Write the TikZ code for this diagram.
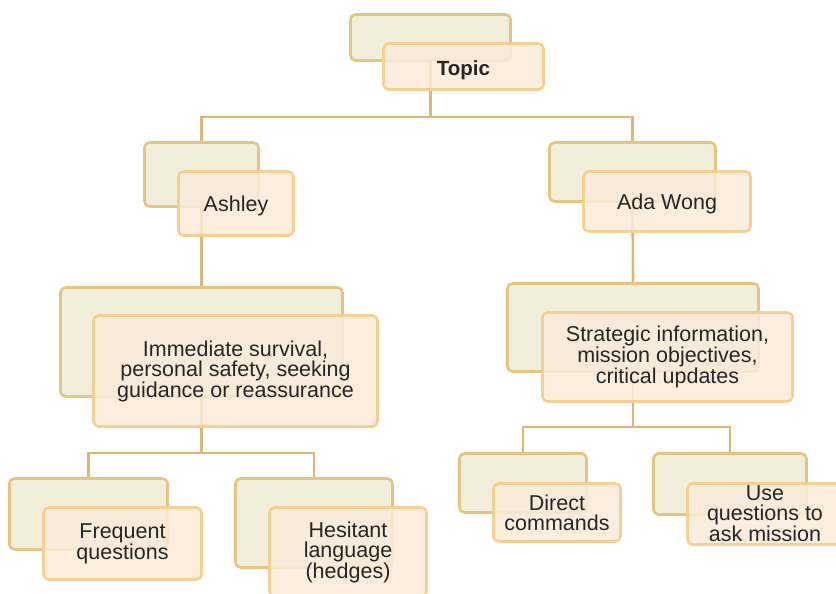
\documentclass[tikz,border=0pt]{standalone}
\usepackage{fontspec}
\setmainfont{Liberation Sans}
\usetikzlibrary{backgrounds}
\definecolor{backfill}{HTML}{F2EEDC}
\definecolor{backdraw}{HTML}{E6C482}
\definecolor{frontfill}{HTML}{FAEBD9}
\definecolor{frontdraw}{HTML}{F6CF8E}
\definecolor{linkcol}{HTML}{D9B878}
\definecolor{txtcol}{HTML}{262626}
\tikzset{
  backbox/.style={draw=backdraw, fill=backfill, line width=2.6pt, rounded corners=5pt, inner sep=0pt, outer sep=0pt},
  frontbox/.style={draw=frontdraw, fill=frontfill, fill opacity=0.85, draw opacity=0.95, text opacity=1, line width=2.6pt, rounded corners=5pt, inner sep=0pt, outer sep=0pt, text=txtcol, align=center, font=\fontsize{21.5}{20}\selectfont},
  link/.style={draw=linkcol, line width=2.6pt},
}
\begin{document}
\begin{tikzpicture}[x=1pt,y=-1pt]
\useasboundingbox (0,0) rectangle (836,594);
\clip (0,0) rectangle (836,594);
% back boxes
\node[backbox, minimum width=160pt, minimum height=46pt] (tB) at (430.5,37.5) {};
\node[backbox, minimum width=114pt, minimum height=64pt] (ashB) at (201.5,174.5) {};
\node[backbox, minimum width=166pt, minimum height=59pt] (adaB) at (632.5,172) {};
\node[backbox, minimum width=282pt, minimum height=109pt] (lbB) at (201.5,342) {};
\node[backbox, minimum width=251pt, minimum height=88pt] (rbB) at (633,327.5) {};
\node[backbox, minimum width=158pt, minimum height=71pt] (frB) at (88.5,514) {};
\node[backbox, minimum width=157pt, minimum height=89pt] (heB) at (314,523) {};
\node[backbox, minimum width=127pt, minimum height=59pt] (diB) at (523,483) {};
\node[backbox, minimum width=153pt, minimum height=61pt] (usB) at (730,484) {};
% front boxes
\node[frontbox, minimum width=160pt, minimum height=46pt, text height=21.5pt, text depth=4.4pt, font=\fontsize{20.5}{20}\selectfont\bfseries] (tF) at (463.5,66.5) {Topic};
\node[frontbox, minimum width=115pt, minimum height=64pt, text height=20pt, text depth=4.4pt] (ashF) at (236,203.5) {Ashley};
\node[frontbox, minimum width=167pt, minimum height=60pt, text height=21pt, text depth=4.4pt] (adaF) at (667,201.5) {Ada Wong};
\node[frontbox, minimum width=284pt, minimum height=111pt] (lbF) at (235.5,371) {Immediate survival,\\personal safety, seeking\\guidance or reassurance};
\node[frontbox, minimum width=250pt, minimum height=89pt] (rbF) at (667.5,357) {Strategic information,\\mission objectives,\\critical updates};
\node[frontbox, minimum width=158pt, minimum height=72pt] (frF) at (122.5,543.5) {Frequent\\questions};
\node[frontbox, minimum width=157pt, minimum height=89pt] (heF) at (348,552) {Hesitant\\language\\(hedges)};
\node[frontbox, minimum width=127pt, minimum height=58pt] (diF) at (557,512.5) {Direct\\commands};
\node[frontbox, minimum width=155pt, minimum height=61pt] (usF) at (765,514) {Use\\questions to\\ask mission};
% junctions
\coordinate (j0) at (430.5,117);
\coordinate (j1) at (201.5,453);
\coordinate (j2) at (633,427);
% connectors
\begin{scope}[on background layer]
\draw[link] (tB.center) -- (j0);
\draw[link] (j0) -| (ashB.north);
\draw[link] (j0) -| (adaB.north);
\draw[link] (ashB.center) -- (lbB.north);
\draw[link] (adaB.center) -- (rbB.north);
\draw[link] (lbB.center) -- (j1);
\draw[link] (j1) -| (frB.north);
\draw[link] (j1) -| (heB.north);
\draw[link] (rbB.center) -- (j2);
\draw[link] (j2) -| (diB.north);
\draw[link] (j2) -| (usB.north);
\end{scope}
\end{tikzpicture}
\end{document}
